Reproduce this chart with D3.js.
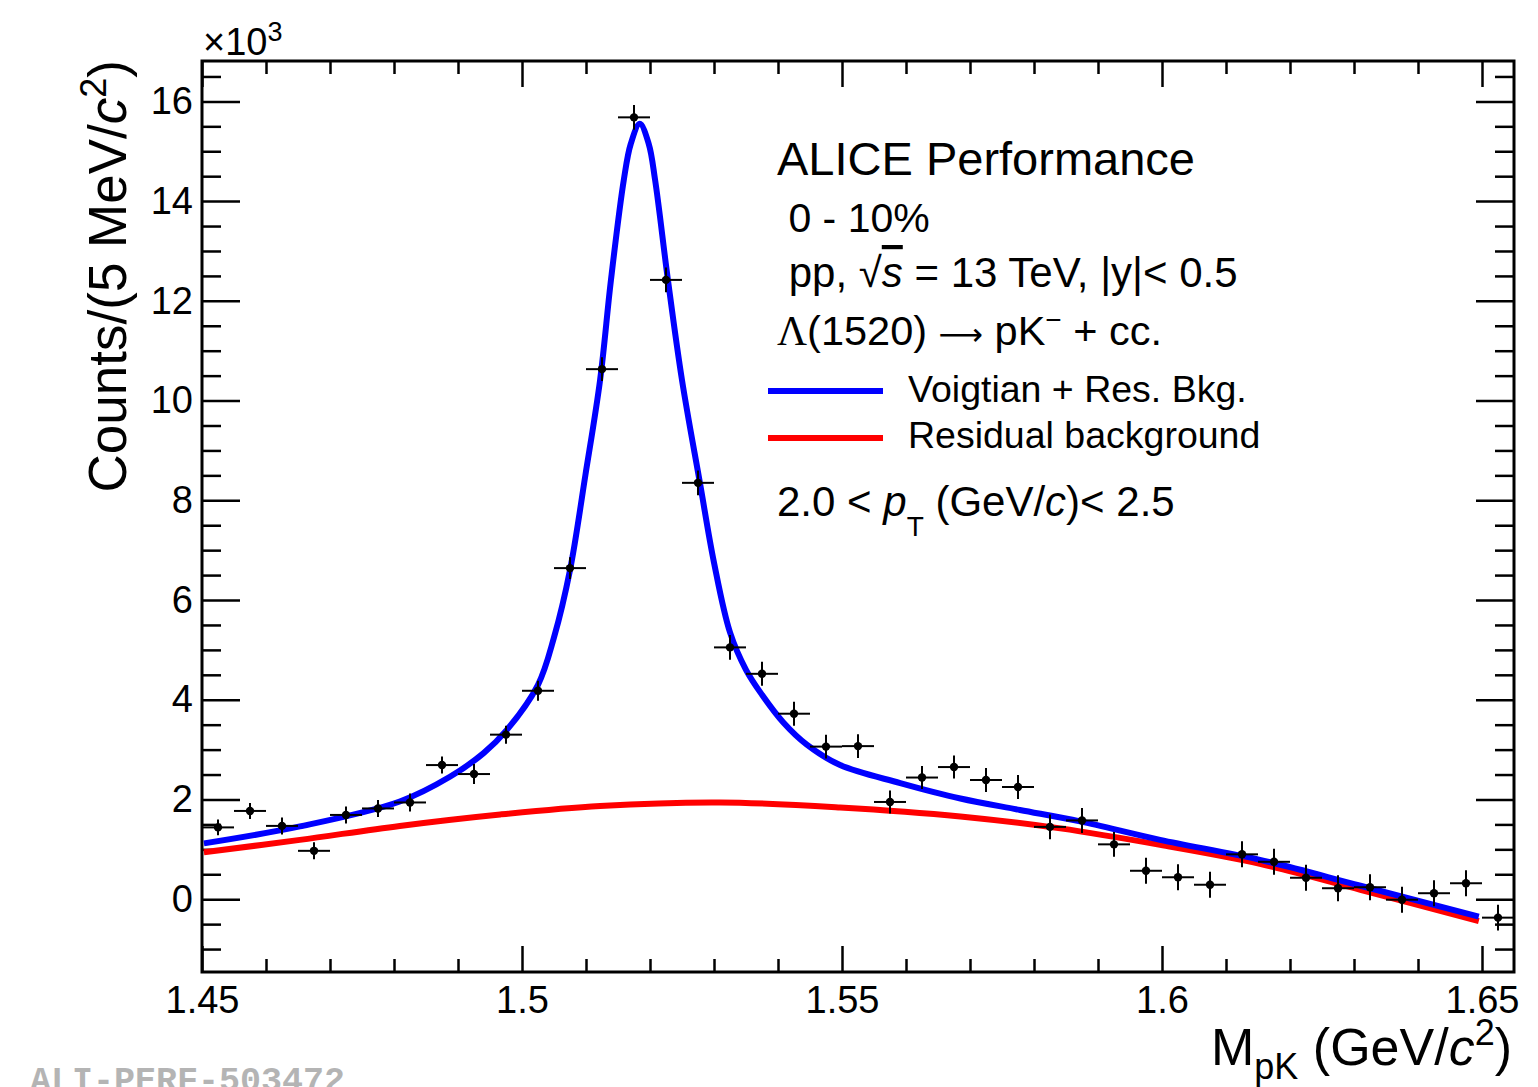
<!DOCTYPE html>
<html>
<head>
<meta charset="utf-8">
<title>Lambda(1520) invariant mass</title>
<script src="https://cdn.jsdelivr.net/npm/d3@7"></script>
<style>
  body { margin: 0; background: #fff; }
  text { font-family: "Liberation Sans", Arial, Helvetica, sans-serif; fill: #000; }
</style>
</head>
<body>
<script>
// bin centres (GeV/c^2) and counts (x10^3)
var massBins = [1.4525, 1.4575, 1.4625, 1.4675, 1.4725, 1.4775, 1.4825, 1.4875, 1.4925, 1.4975,
                1.5025, 1.5075, 1.5125, 1.5175, 1.5225, 1.5275, 1.5325, 1.5375, 1.5425, 1.5475,
                1.5525, 1.5575, 1.5625, 1.5675, 1.5725, 1.5775, 1.5825, 1.5875, 1.5925, 1.5975,
                1.6025, 1.6075, 1.6125, 1.6175, 1.6225, 1.6275, 1.6325, 1.6375, 1.6425, 1.6475, 1.6525]
var counts = [1.44, 1.77, 1.47, 0.97, 1.69, 1.82, 1.94, 2.69, 2.51, 3.30,
              4.18, 6.64, 10.63, 15.68, 12.42, 8.35, 5.05, 4.52, 3.72, 3.06,
              3.07, 1.95, 2.44, 2.65, 2.39, 2.25, 1.45, 1.58, 1.10, 0.57,
              0.44, 0.29, 0.90, 0.75, 0.43, 0.22, 0.24, -0.01, 0.12, 0.32, -0.37]
var countErr = [0.16, 0.16, 0.17, 0.17, 0.17, 0.17, 0.18, 0.17, 0.20, 0.18,
                0.20, 0.22, 0.24, 0.25, 0.25, 0.25, 0.25, 0.24, 0.24, 0.24,
                0.24, 0.23, 0.23, 0.23, 0.24, 0.24, 0.25, 0.25, 0.25, 0.26,
                0.26, 0.26, 0.26, 0.26, 0.26, 0.26, 0.26, 0.26, 0.26, 0.26, 0.26]
var binHalfWidth = 0.0025

// fit curves
var totalFitX = [1.4503, 1.4653, 1.4809, 1.4888, 1.4940, 1.4976, 1.5025, 1.5050, 1.5075, 1.5099,
                 1.5122, 1.5139, 1.5159, 1.5170, 1.5184, 1.5198, 1.5208, 1.5228, 1.5250, 1.5278,
                 1.5300, 1.5325, 1.5350, 1.5375, 1.5408, 1.5445, 1.5497, 1.5591, 1.5685, 1.5778,
                 1.5872, 1.5997, 1.6153, 1.6310, 1.6495]
var totalFitY = [1.12, 1.46, 1.96, 2.46, 2.93, 3.39, 4.30, 5.25, 6.60, 8.50,
                 10.41, 12.42, 14.42, 15.15, 15.55, 15.15, 14.42, 12.42, 10.41, 8.35,
                 6.75, 5.35, 4.60, 4.10, 3.55, 3.10, 2.69, 2.33, 2.02, 1.79,
                 1.56, 1.19, 0.79, 0.27, -0.35]
var bkgFitX = [1.4503, 1.4653, 1.4809, 1.4966, 1.5122, 1.5309, 1.5497, 1.5685, 1.5841, 1.5997,
               1.6153, 1.6310, 1.6495]
var bkgFitY = [0.94, 1.19, 1.47, 1.70, 1.87, 1.94, 1.84, 1.66, 1.42, 1.09,
               0.71, 0.19, -0.44]

var xMajor = [1.45, 1.5, 1.55, 1.6, 1.65]
var xMajorLabels = ["1.45", "1.5", "1.55", "1.6", "1.65"]
var yMajor = [0, 2, 4, 6, 8, 10, 12, 14, 16]

var w = 1538, h = 1087
// plot frame (avoid the name "top", it is window.top)
var pL = 202, pR = 1514, pT = 61, pB = 972

var svg = d3.select("body").append("svg").attr("width", w).attr("height", h)

var x = d3.scaleLinear().domain([1.45, 1.655]).range([pL, pR])
var y = d3.scaleLinear().domain([-1.46, 16.81]).range([pB, pT])

var xMinor = d3.range(1.45, 1.6551, 0.01).filter(function(v){ return Math.abs(v*100 - Math.round(v*20)*5) > 0.01 })
var yMinor = d3.range(-1.0, 16.81, 0.5).filter(function(v){ return Math.abs(v % 2) > 0.01 })

function styleAxis(g) {
    g.select(".domain").remove()
    g.selectAll(".tick line").attr("stroke", "#000").attr("stroke-width", 2.5)
    g.selectAll(".tick text").style("font-size", "38px").style("font-family", "Liberation Sans, Arial, sans-serif")
}

// bottom axis
svg.append("g").attr("transform", "translate(0," + pB + ")")
    .call(d3.axisBottom(x).tickValues(xMajor).tickSize(-26).tickPadding(14)
        .tickFormat(function(d, i){ return xMajorLabels[i] }))
    .call(styleAxis)
svg.append("g").attr("transform", "translate(0," + pB + ")")
    .call(d3.axisBottom(x).tickValues(xMinor).tickSize(-13).tickFormat(""))
    .call(styleAxis)
// top axis
svg.append("g").attr("transform", "translate(0," + pT + ")")
    .call(d3.axisTop(x).tickValues(xMajor).tickSize(-26).tickFormat(""))
    .call(styleAxis)
svg.append("g").attr("transform", "translate(0," + pT + ")")
    .call(d3.axisTop(x).tickValues(xMinor).tickSize(-13).tickFormat(""))
    .call(styleAxis)
// left axis
svg.append("g").attr("transform", "translate(" + pL + ",0)")
    .call(d3.axisLeft(y).tickValues(yMajor).tickSize(-38).tickPadding(9).tickFormat(d3.format("d")))
    .call(styleAxis)
svg.append("g").attr("transform", "translate(" + pL + ",0)")
    .call(d3.axisLeft(y).tickValues(yMinor).tickSize(-19).tickFormat(""))
    .call(styleAxis)
// right axis
svg.append("g").attr("transform", "translate(" + pR + ",0)")
    .call(d3.axisRight(y).tickValues(yMajor).tickSize(-38).tickFormat(""))
    .call(styleAxis)
svg.append("g").attr("transform", "translate(" + pR + ",0)")
    .call(d3.axisRight(y).tickValues(yMinor).tickSize(-19).tickFormat(""))
    .call(styleAxis)

// frame
svg.append("rect").attr("x", pL).attr("y", pT).attr("width", pR - pL).attr("height", pB - pT)
    .attr("fill", "none").attr("stroke", "#000").attr("stroke-width", 3)

// curves
var line = d3.line()
    .x(function(d){ return x(d[0]) })
    .y(function(d){ return y(d[1]) })
    .curve(d3.curveCatmullRom.alpha(0.5))

svg.append("path").datum(d3.zip(bkgFitX, bkgFitY))
    .attr("d", line).attr("fill", "none").attr("stroke", "#ff0000").attr("stroke-width", 6)
svg.append("path").datum(d3.zip(totalFitX, totalFitY))
    .attr("d", line).attr("fill", "none").attr("stroke", "#0000ff").attr("stroke-width", 6)
    .attr("stroke-linejoin", "round")

// data points with error bars
var pts = massBins.map(function(m, i){ return { m: m, v: counts[i], e: countErr[i] } })
var pg = svg.append("g").selectAll("g").data(pts).enter().append("g")
pg.append("line")
    .attr("x1", function(d){ return x(d.m - binHalfWidth) })
    .attr("x2", function(d){ return x(d.m + binHalfWidth) })
    .attr("y1", function(d){ return y(d.v) })
    .attr("y2", function(d){ return y(d.v) })
    .attr("stroke", "#000").attr("stroke-width", 2)
pg.append("line")
    .attr("x1", function(d){ return x(d.m) })
    .attr("x2", function(d){ return x(d.m) })
    .attr("y1", function(d){ return y(d.v - d.e) })
    .attr("y2", function(d){ return y(d.v + d.e) })
    .attr("stroke", "#000").attr("stroke-width", 2)
pg.append("circle")
    .attr("cx", function(d){ return x(d.m) })
    .attr("cy", function(d){ return y(d.v) })
    .attr("r", 4.2).attr("fill", "#000")

// exponent
var ex = svg.append("text").attr("x", 203).attr("y", 55).style("font-size", "38px")
ex.append("tspan").text("\u00d710")
ex.append("tspan").attr("dy", -14).style("font-size", "27px").text("3")

// y axis title
var yt = svg.append("text").attr("transform", "translate(126,60) rotate(-90)")
    .attr("text-anchor", "end").style("font-size", "53px")
yt.append("tspan").text("Counts/(5 MeV/")
yt.append("tspan").style("font-style", "italic").text("c")
yt.append("tspan").attr("dy", -20).style("font-size", "36px").text("2")
yt.append("tspan").attr("dy", 20).text(")")

// x axis title
var xt = svg.append("text").attr("x", 1512).attr("y", 1065).attr("text-anchor", "end").style("font-size", "52px")
xt.append("tspan").text("M")
xt.append("tspan").attr("dy", 14).style("font-size", "36px").text("pK")
xt.append("tspan").attr("dy", -14).text(" (GeV/")
xt.append("tspan").style("font-style", "italic").text("c")
xt.append("tspan").attr("dy", -20).style("font-size", "36px").text("2")
xt.append("tspan").attr("dy", 20).text(")")

// labels
svg.append("text").attr("x", 777).attr("y", 175).style("font-size", "47px").text("ALICE Performance")
svg.append("text").attr("x", 777).attr("y", 232).style("font-size", "41px").text("\u00a00 - 10%")

var t2 = svg.append("text").attr("x", 777).attr("y", 287).style("font-size", "42px")
t2.append("tspan").text("\u00a0pp, \u221a")
t2.append("tspan").style("font-style", "italic").style("text-decoration", "overline").text("s")
t2.append("tspan").text(" = 13 TeV, |y|< 0.5")

var t3 = svg.append("text").attr("x", 777).attr("y", 345).style("font-size", "41.5px")
t3.append("tspan").style("font-family", "Liberation Serif, Times New Roman, serif").text("\u039b")
t3.append("tspan").text("(1520) ")
t3.append("tspan").style("font-family", "DejaVu Sans, sans-serif").style("font-size", "31px").text("\u27f6")
t3.append("tspan").text(" pK")
t3.append("tspan").attr("dy", -16).style("font-size", "28px").text("\u2212")
t3.append("tspan").attr("dy", 16).text(" + cc.")

// legend
var legend = [
    { color: "#0000ff", label: "Voigtian + Res. Bkg.", ly: 391, ty: 402 },
    { color: "#ff0000", label: "Residual background", ly: 438, ty: 448 }
]
legend.forEach(function(d){
    svg.append("line").attr("x1", 768).attr("x2", 883).attr("y1", d.ly).attr("y2", d.ly)
        .attr("stroke", d.color).attr("stroke-width", 6)
    svg.append("text").attr("x", 908).attr("y", d.ty).style("font-size", "37.5px").text(d.label)
})

var t4 = svg.append("text").attr("x", 777).attr("y", 516).style("font-size", "42px")
t4.append("tspan").text("2.0 < ")
t4.append("tspan").style("font-style", "italic").text("p")
t4.append("tspan").attr("dy", 20).style("font-size", "28px").text("T")
t4.append("tspan").attr("dy", -20).text(" (GeV/")
t4.append("tspan").style("font-style", "italic").text("c")
t4.append("tspan").text(")< 2.5")

// watermark
svg.append("text").attr("x", 30).attr("y", 1091)
    .style("font-family", "Liberation Mono, DejaVu Sans Mono, monospace")
    .style("font-weight", "bold").style("font-size", "35px").style("fill", "#b4b4b4")
    .text("ALI-PERF-503472")
</script>
</body>
</html>
